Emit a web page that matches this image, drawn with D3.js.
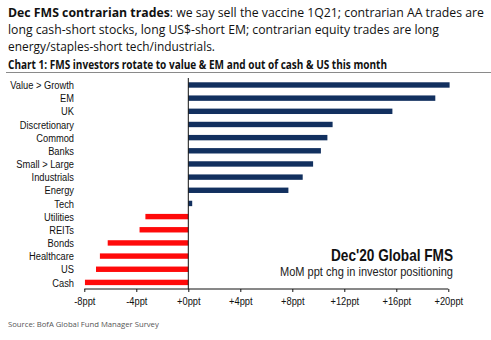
<!DOCTYPE html>
<html>
<head>
<meta charset="utf-8">
<script src="https://cdn.jsdelivr.net/npm/d3@7"></script>
<style>
  body { margin: 0; background: #fff; }
  svg { display: block; }
  .cat text { font-family: "Liberation Sans", Arial, sans-serif; font-size: 11.5px; fill: #111; }
  .xaxis text { font-family: "Liberation Sans", Arial, sans-serif; font-size: 11.5px; fill: #111; }
  .hdr { font-family: "Open Sans", sans-serif; font-size: 12.8px; fill: #111; }
</style>
</head>
<body>
<svg id="chart" width="491" height="340"></svg>
<script>
  // categories top to bottom, MoM ppt change
  var categories = ['Value > Growth', 'EM', 'UK', 'Discretionary', 'Commod', 'Banks',
    'Small > Large', 'Industrials', 'Energy', 'Tech', 'Utilities', 'REITs', 'Bonds',
    'Healthcare', 'US', 'Cash'];
  var values = [20.1, 19.0, 15.7, 11.1, 10.7, 10.2, 9.6, 8.8, 7.7, 0.3,
    -3.3, -3.75, -6.2, -6.8, -7.1, -7.95];
  var tickValues = [-8, -4, 0, 4, 8, 12, 16, 20];
  var tickLabels = ['-8ppt', '-4ppt', '+0ppt', '+4ppt', '+8ppt', '+12ppt', '+16ppt', '+20ppt'];

  var svg = d3.select('#chart'),
      squeeze = 'scale(0.81,1)';

  // header text
  var head = svg.append('text').attr('class', 'hdr')
    .attr('x', 8).attr('y', 17)
    .style('font-size', '12.3px')
    .attr('textLength', 476).attr('lengthAdjust', 'spacingAndGlyphs');
  head.append('tspan').style('font-weight', 'bold').text('Dec FMS contrarian trades');
  head.append('tspan').text(': we say sell the vaccine 1Q21; contrarian AA trades are');

  svg.append('text').attr('class', 'hdr').attr('x', 8).attr('y', 34)
    .attr('textLength', 431).attr('lengthAdjust', 'spacingAndGlyphs')
    .text('long cash-short stocks, long US$-short EM; contrarian equity trades are long');
  svg.append('text').attr('class', 'hdr').attr('x', 8).attr('y', 51)
    .attr('textLength', 207).attr('lengthAdjust', 'spacingAndGlyphs')
    .text('energy/staples-short tech/industrials.');

  svg.append('text').attr('x', 8).attr('y', 68.5)
    .attr('textLength', 379).attr('lengthAdjust', 'spacingAndGlyphs')
    .style('font-family', '"Open Sans", sans-serif')
    .style('font-weight', 'bold').style('font-size', '12px').style('fill', '#111')
    .text('Chart 1: FMS investors rotate to value & EM and out of cash & US this month');

  svg.append('line')
    .attr('x1', 6).attr('x2', 491).attr('y1', 72.5).attr('y2', 72.5)
    .attr('stroke', '#8a8a8a').attr('stroke-width', 1);

  var x = d3.scaleLinear().domain([-8, 20]).range([84.3, 448.3]);
  var y = d3.scaleBand().domain(categories).range([78.4, 289]);

  var g = svg.append('g');

  g.selectAll('rect.bar')
    .data(values)
    .enter().append('rect')
    .attr('class', 'bar')
    .attr('x', function (d) { return x(Math.min(0, d)); })
    .attr('width', function (d) { return Math.abs(x(d) - x(0)); })
    .attr('y', function (d, i) { return y(categories[i]) + y.bandwidth() / 2 - 2.7; })
    .attr('height', 5.4)
    .attr('fill', function (d) { return d < 0 ? '#ff0a0a' : '#12305f'; });

  // category labels (narrowed like the original's condensed face)
  var cat = svg.append('g').attr('class', 'cat');
  cat.selectAll('text')
    .data(categories)
    .enter().append('text')
    .attr('transform', function (d) {
      return 'translate(74,' + (y(d) + y.bandwidth() / 2) + ')' + squeeze;
    })
    .attr('dy', '0.36em')
    .attr('text-anchor', 'end')
    .text(function (d) { return d; });

  // zero line
  svg.append('line')
    .attr('x1', x(0)).attr('x2', x(0)).attr('y1', 78).attr('y2', 289)
    .attr('stroke', '#111').attr('stroke-width', 1);

  // x axis
  var xAxis = d3.axisBottom(x)
    .tickValues(tickValues)
    .tickSize(3)
    .tickPadding(5)
    .tickFormat(function (d, i) { return tickLabels[i]; });

  var ax = svg.append('g').attr('class', 'xaxis')
    .attr('transform', 'translate(0,289)')
    .call(xAxis);
  ax.select('.domain').attr('stroke', '#111').attr('d', 'M' + x(-8) + ',0H' + x(20));
  ax.selectAll('.tick line').attr('stroke', '#111');
  ax.selectAll('.tick text').attr('fill', '#111').attr('transform', squeeze);

  // in-chart annotation
  svg.append('text').attr('x', 331).attr('y', 261)
    .attr('textLength', 122).attr('lengthAdjust', 'spacingAndGlyphs')
    .style('font-family', '"Liberation Sans", Arial, sans-serif')
    .style('font-weight', 'bold').style('font-size', '16.5px').style('fill', '#111')
    .text("Dec'20 Global FMS");
  svg.append('text').attr('x', 280).attr('y', 276)
    .attr('textLength', 173).attr('lengthAdjust', 'spacingAndGlyphs')
    .style('font-family', '"Liberation Sans", Arial, sans-serif')
    .style('font-size', '13px').style('fill', '#222')
    .text('MoM ppt chg in investor positioning');

  svg.append('text').attr('x', 8).attr('y', 327)
    .style('font-family', '"Open Sans", sans-serif')
    .style('font-size', '7.7px').style('fill', '#555')
    .text('Source:  BofA Global Fund Manager Survey');
</script>
</body>
</html>
